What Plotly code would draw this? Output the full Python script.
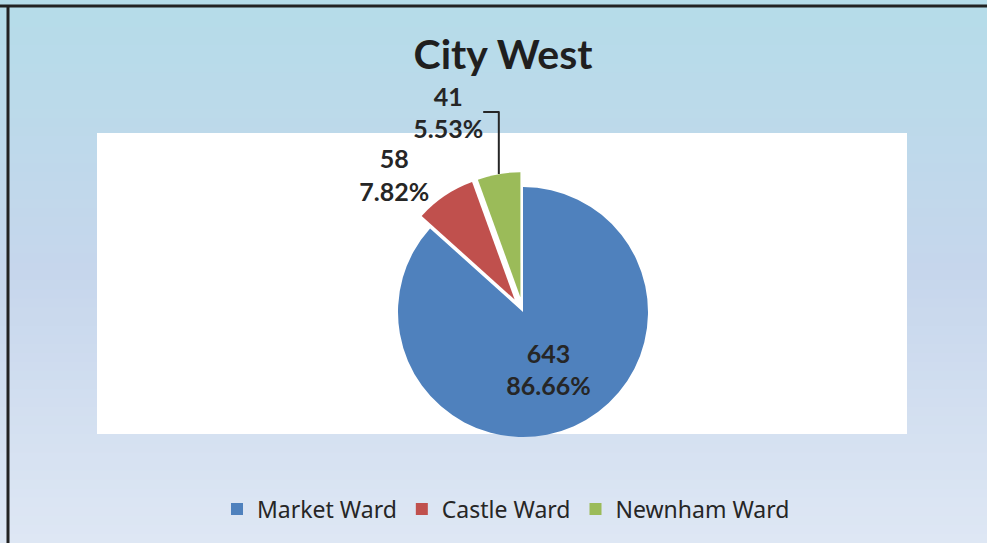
import plotly.graph_objects as go

wards = ["Market Ward", "Castle Ward", "Newnham Ward"]
counts = [643, 58, 41]
colors = ["#4f81bd", "#c0504d", "#9bbb59"]
pulls = [0.0, 0.12, 0.12]

W, H = 987, 543

def lerp(c1, c2, t):
    return tuple(round(a + (b - a) * t) for a, b in zip(c1, c2))

top_c = (181, 220, 233)
mid_c = (198, 214, 236)
bot_c = (222, 231, 244)

shapes = []
n = 60
for i in range(n):
    t = i / (n - 1)
    if t < 0.5:
        c = lerp(top_c, mid_c, t / 0.5)
    else:
        c = lerp(mid_c, bot_c, (t - 0.5) / 0.5)
    y1 = 1 - i / n
    y0 = 1 - (i + 1) / n - 0.002
    shapes.append(dict(type="rect", xref="paper", yref="paper", x0=0, x1=1,
                       y0=max(y0, 0), y1=y1, fillcolor="rgb(%d,%d,%d)" % c,
                       line=dict(width=0), layer="below"))
# white plot area
shapes.append(dict(type="rect", xref="paper", yref="paper",
                   x0=97 / W, x1=907 / W, y0=1 - 434 / H, y1=1 - 133 / H,
                   fillcolor="white", line=dict(width=0), layer="below"))
# frame lines
shapes.append(dict(type="line", xref="paper", yref="paper", x0=0, x1=1,
                   y0=1 - 6 / H, y1=1 - 6 / H, line=dict(color="#222222", width=3)))
shapes.append(dict(type="line", xref="paper", yref="paper", x0=8 / W, x1=8 / W,
                   y0=0, y1=1 - 5 / H, line=dict(color="#222222", width=3)))

cx, cy, half = 523, 312, 140
lab_font = dict(family="Lato", size=25, color="#262626", weight="bold")

fig = go.Figure(go.Pie(
    labels=wards, values=counts, sort=False, direction="clockwise", rotation=0,
    pull=pulls,
    marker=dict(colors=colors, line=dict(color="rgba(0,0,0,0)", width=0)),
    texttemplate="<b>%{value}<br>%{percent:.2%}</b>",
    textposition=["inside", "outside", "outside"],
    insidetextorientation="horizontal",
    textfont=lab_font,
    outsidetextfont=lab_font,
    insidetextfont=lab_font,
    domain=dict(x=[(cx - half) / W, (cx + half) / W], y=[1 - (cy + half) / H, 1 - (cy - half) / H]),
    hoverinfo="label+value+percent",
))

fig.update_layout(
    width=W, height=H,
    margin=dict(l=0, r=0, t=0, b=0),
    paper_bgcolor="#c6d6ec",
    plot_bgcolor="white",
    shapes=shapes,
    title=dict(text="<b>City West</b>", x=503 / W, xanchor="center", y=1 - 55 / H, yanchor="middle",
               font=dict(family="Lato", size=41, color="#1f1f1f")),
    showlegend=True,
    legend=dict(orientation="h", x=506 / W, xanchor="center", y=1 - 509 / H, yanchor="middle",
                font=dict(family="Noto Sans", size=23, color="#262626"),
                bgcolor="rgba(0,0,0,0)", itemwidth=30, traceorder="normal"),
)

fig.write_html("out.html", config={"displayModeBar": False},
               post_script="document.body.style.margin='0';document.body.style.overflow='hidden';")
